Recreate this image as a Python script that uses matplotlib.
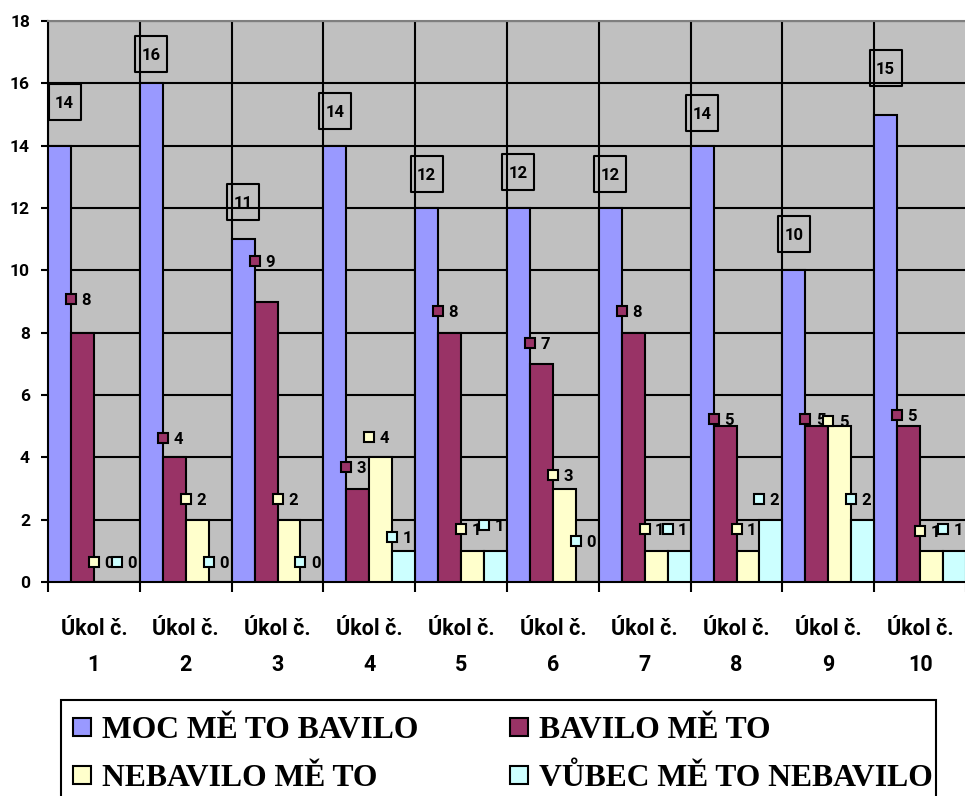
import matplotlib
matplotlib.use("Agg")
import matplotlib.pyplot as plt
from matplotlib.patches import Rectangle
from matplotlib.path import Path
import numpy as np

# ---- data ----
tasks = [f"Úkol č.\n{i}" for i in range(1, 11)]
series_names = ["MOC MĚ TO BAVILO", "BAVILO MĚ TO",
                "NEBAVILO MĚ TO", "VŮBEC MĚ TO NEBAVILO"]
moc = [14, 16, 11, 14, 12, 12, 12, 14, 10, 15]
bavilo = [8, 4, 9, 3, 8, 7, 8, 5, 5, 5]
nebavilo = [0, 2, 2, 4, 1, 3, 1, 1, 5, 1]
vubec = [0, 0, 0, 1, 1, 0, 1, 2, 2, 1]
y_ticks = list(range(0, 19, 2))

# ---- style ----
colors = ["#9999FF", "#993366", "#FFFFCC", "#CCFFFF"]
plot_bg = "#C0C0C0"
# vertical lift of every data label above its bar (value units)
label_lift = [
    [1.39, 0.94, 1.18, 1.10, 1.09, 1.15, 1.10, 1.05, 1.16, 1.48],
    [1.08, 0.63, 1.29, 0.68, 0.68, 0.66, 0.69, 0.23, 0.23, 0.36],
    [0.65, 0.66, 0.66, 0.64, 0.70, 0.43, 0.69, 0.70, 0.17, 0.64],
    [0.65, 0.65, 0.65, 0.44, 0.83, 1.30, 0.70, 0.66, 0.66, 0.70],
]
sans = "Roboto"
serif = "Liberation Serif"

# tall rectangular frame drawn around the top-series labels
frame = Path([(-0.43, -0.5), (0.43, -0.5), (0.43, 0.5), (-0.43, 0.5),
              (-0.43, -0.5)],
             [Path.MOVETO, Path.LINETO, Path.LINETO, Path.LINETO,
              Path.CLOSEPOLY])

W, H = 965, 796
fig = plt.figure(figsize=(W / 100, H / 100), dpi=100)
fig.patch.set_facecolor("white")
ax = fig.add_axes([48 / W, 1 - 582 / H, (966 - 48) / W, (582 - 21) / H])
ax.set_facecolor(plot_bg)

series = [moc, bavilo, nebavilo, vubec]
n = len(moc)
x = np.arange(n)
bw = 0.25

for k, vals in enumerate(series):
    ax.bar(x + bw / 2 + k * bw, vals, width=bw, color=colors[k],
           edgecolor="black", linewidth=1.5, zorder=3)

# data labels
for k, vals in enumerate(series):
    for i, v in enumerate(vals):
        y = v + label_lift[k][i]
        if k == 0:
            xc = max(i + bw / 2, 0.18)
            ax.plot([xc], [y], marker=frame, ms=26, mfc="none",
                    mec="black", mew=1.5, zorder=6, clip_on=False)
            ax.text(xc, y, str(v), ha="center", va="center_baseline",
                    fontsize=12, fontweight="bold", family=sans,
                    zorder=6)
        else:
            xl = i + k * bw
            ax.plot([xl], [y], marker="s", ms=7.5, mfc=colors[k],
                    mec="black", mew=1.5, zorder=6, clip_on=False)
            ax.annotate(str(v), (xl, y), xytext=(7.5, 0),
                        textcoords="offset points", ha="left",
                        va="center_baseline",
                        fontsize=12, fontweight="bold", family=sans,
                        zorder=6)

# axes, grid, ticks
ax.set_xlim(0, n)
ax.set_ylim(0, 18)
ax.set_yticks(y_ticks)
ax.set_xticks(np.arange(n + 1))
ax.set_xticks(x + 0.5, minor=True)
ax.set_xticklabels([])
ax.set_xticklabels(tasks, minor=True, fontsize=15.5, fontweight="bold",
                   family=sans, linespacing=1.8)
ax.set_axisbelow(True)
ax.grid(True, which="major", color="black", linewidth=1.5)
ax.tick_params(axis="x", which="major", length=7, width=1.5,
               direction="out", color="black")
ax.tick_params(axis="x", which="minor", length=0, pad=26)
ax.tick_params(axis="y", length=5, width=1.5, pad=8, color="black")
for lab in ax.get_yticklabels():
    lab.set_fontsize(12.5)
    lab.set_fontweight("bold")
    lab.set_family(sans)

for side in ("left", "bottom"):
    ax.spines[side].set_color("black")
    ax.spines[side].set_linewidth(1.5)
ax.spines["top"].set_color("#7f7f7f")
ax.spines["top"].set_linewidth(1.5)
ax.spines["right"].set_visible(False)

# legend box
fig.add_artist(Rectangle((61 / W, -0.05), (936 - 61) / W,
                         (796 - 700) / H + 0.05,
                         transform=fig.transFigure, fc="white",
                         ec="black", lw=1.5))
legend_pos = [(73, 727), (510, 727), (73, 775), (510, 775)]
for k, name in enumerate(series_names):
    px, py = legend_pos[k]
    fig.add_artist(Rectangle((px / W, 1 - (py + 9) / H), 18 / W, 18 / H,
                             transform=fig.transFigure, fc=colors[k],
                             ec="black", lw=1.5))
    fig.text((px + 29) / W, 1 - (py + 11) / H, name, ha="left",
             va="baseline", fontsize=22.8, fontweight="bold",
             family=serif)

fig.savefig("out.png", dpi=100)
